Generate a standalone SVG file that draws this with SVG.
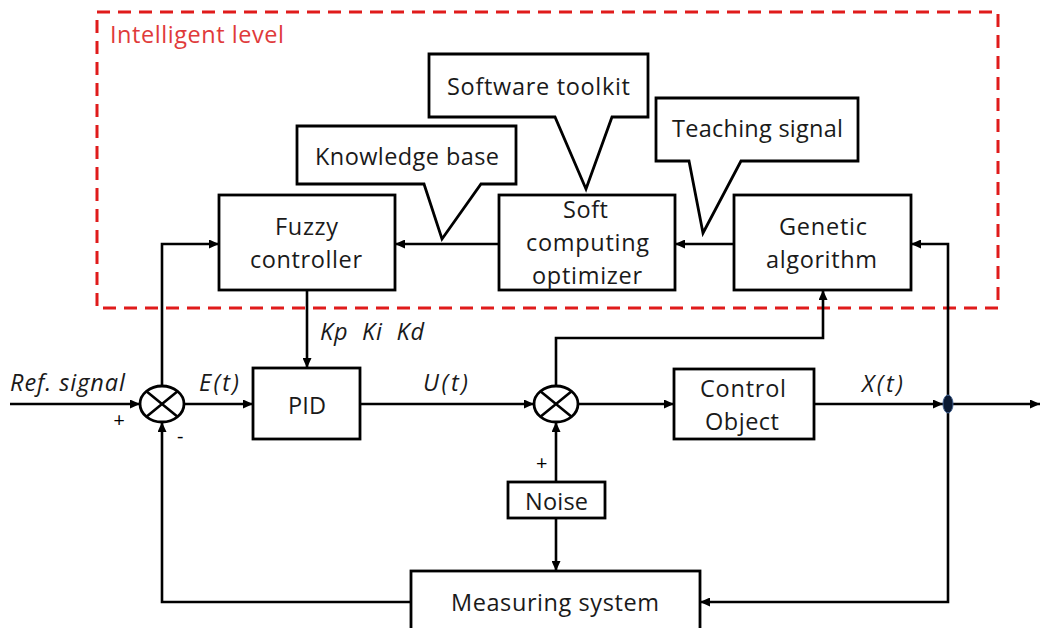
<svg xmlns="http://www.w3.org/2000/svg" width="1040" height="628" viewBox="0 0 1040 628">
<style>
.box{fill:#fff;stroke:#000;stroke-width:2.8}
.ln{fill:none;stroke:#000;stroke-width:2.6}
.t{font-family:"Open Sans","Liberation Sans",Arial,sans-serif;font-size:23.5px;fill:#1a1a1a}
.i{font-family:"Open Sans","Liberation Sans",Arial,sans-serif;font-size:23.5px;font-style:italic;fill:#1a1a1a}
.s{font-family:"Open Sans","Liberation Sans",Arial,sans-serif;font-size:20px;fill:#000}
</style>
<defs>
<marker id="ah" markerUnits="userSpaceOnUse" markerWidth="10" markerHeight="9" refX="10" refY="4.5" orient="auto">
<path d="M0,0 L10,4.5 L0,9 Z" fill="#000"/>
</marker>
</defs>
<rect width="1040" height="628" fill="#fff"/>
<g id="intelligent-level">
<rect x="97" y="12" width="901" height="296" fill="none" stroke="#e01b1b" stroke-width="3" stroke-dasharray="13 8"/>
<text x="110" y="43" class="t" style="fill:#e03a3a" textLength="174">Intelligent level</text>
</g>
<g id="connectors">
<path class="ln" d="M499,244 H395" marker-end="url(#ah)"/>
<path class="ln" d="M734,244 H675" marker-end="url(#ah)"/>
<path class="ln" d="M162,386 V244 H219" marker-end="url(#ah)"/>
<path class="ln" d="M948,395 V244 H911" marker-end="url(#ah)"/>
<path class="ln" d="M556,386 V338 H823 V290" marker-end="url(#ah)"/>
<path class="ln" d="M307,290 V368" marker-end="url(#ah)"/>
<path class="ln" d="M10,404 H140" marker-end="url(#ah)"/>
<path class="ln" d="M184,404 H253" marker-end="url(#ah)"/>
<path class="ln" d="M360,404 H534" marker-end="url(#ah)"/>
<path class="ln" d="M578,404 H674" marker-end="url(#ah)"/>
<path class="ln" d="M814,404 H943" marker-end="url(#ah)"/>
<path class="ln" d="M953,404 H1040" marker-end="url(#ah)"/>
<path class="ln" d="M948,413 V602 H700" marker-end="url(#ah)"/>
<path class="ln" d="M411,602 H162 V422" marker-end="url(#ah)"/>
<path class="ln" d="M556,482 V422" marker-end="url(#ah)"/>
<path class="ln" d="M556,518 V571" marker-end="url(#ah)"/>
<ellipse cx="948" cy="404" rx="5" ry="9" fill="#0b1a33" stroke="#3a5a8a" stroke-width="1"/>
</g>
<g id="software-toolkit">
<path class="box" d="M429,54 H648 V117 H612 L586,189 L555,117 H429 Z"/>
<text x="447" y="95" class="t" textLength="183">Software toolkit</text>
</g>
<g id="knowledge-base">
<path class="box" d="M297,126 H516 V184 H481 L442,239 L424,184 H297 Z"/>
<text x="315" y="165" class="t" textLength="184">Knowledge base</text>
</g>
<g id="teaching-signal">
<path class="box" d="M656,98 H858 V161 H741 L703,233 L689,161 H656 Z"/>
<text x="672" y="137" class="t" textLength="171">Teaching signal</text>
</g>
<g id="fuzzy-controller">
<rect class="box" x="219" y="195" width="176" height="95"/>
<text x="275" y="235" class="t" textLength="63">Fuzzy</text>
<text x="250" y="268" class="t" textLength="112">controller</text>
</g>
<g id="soft-computing-optimizer">
<rect class="box" x="499" y="195" width="176" height="95"/>
<text x="563" y="218" class="t" textLength="45">Soft</text>
<text x="526" y="251" class="t" textLength="123">computing</text>
<text x="532" y="284" class="t" textLength="110">optimizer</text>
</g>
<g id="genetic-algorithm">
<rect class="box" x="734" y="195" width="177" height="95"/>
<text x="779" y="235" class="t" textLength="88">Genetic</text>
<text x="766" y="268" class="t" textLength="111">algorithm</text>
</g>
<g id="sum1">
<ellipse class="box" cx="162" cy="404" rx="22" ry="18"/>
<path class="ln" d="M146.4,391.3 L177.6,416.7 M177.6,391.3 L146.4,416.7"/>
</g>
<g id="pid">
<rect class="box" x="253" y="368" width="107" height="71"/>
<text x="288" y="414" class="t" textLength="38">PID</text>
</g>
<g id="sum2">
<ellipse class="box" cx="556" cy="404" rx="22" ry="18"/>
<path class="ln" d="M540.4,391.3 L571.6,416.7 M571.6,391.3 L540.4,416.7"/>
</g>
<g id="control-object">
<rect class="box" x="674" y="369" width="140" height="70"/>
<text x="700" y="397" class="t" textLength="86">Control</text>
<text x="705" y="430" class="t" textLength="74">Object</text>
</g>
<g id="noise">
<rect class="box" x="508" y="482" width="97" height="36"/>
<text x="525" y="510" class="t" textLength="63">Noise</text>
</g>
<g id="measuring-system">
<rect class="box" x="411" y="571" width="289" height="70"/>
<text x="451" y="611" class="t" textLength="208">Measuring system</text>
</g>
<g id="labels">
<text x="10" y="391" class="i" textLength="115">Ref. signal</text>
<text x="199" y="391" class="i" textLength="40">E(t)</text>
<text x="423" y="391" class="i" textLength="45">U(t)</text>
<text x="862" y="392" class="i" textLength="41">X(t)</text>
<text x="320" y="340" class="i" textLength="104" xml:space="preserve">Kp  Ki  Kd</text>
<text x="113" y="427" class="s" style="font-style:italic">+</text>
<text x="177" y="443" class="s">-</text>
<text x="536" y="470" class="s">+</text>
</g>
</svg>
